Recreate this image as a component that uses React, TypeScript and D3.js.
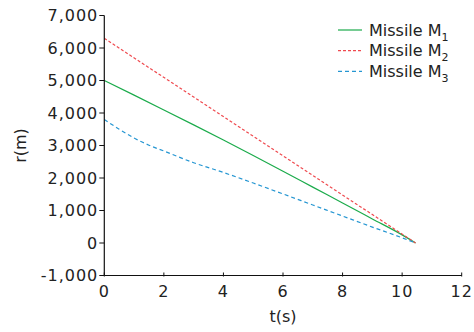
import React from "react";
import * as d3 from "d3";

const xTicks = [0, 2, 4, 6, 8, 10, 12];
const yTicks = [-1000, 0, 1000, 2000, 3000, 4000, 5000, 6000, 7000];

const m1T = [0, 1, 2, 3, 4, 5, 6, 7, 8, 9, 10, 10.45];
const m1R = [5000, 4550, 4095, 3635, 3170, 2695, 2210, 1720, 1230, 740, 250, 0];

const m2T = [0, 10.45];
const m2R = [6300, 0];

const m3T = [0, 0.5, 1, 1.5, 2, 3, 4, 5, 6, 7, 8, 9, 10, 10.45];
const m3R = [3800, 3500, 3230, 3010, 2830, 2470, 2170, 1845, 1510, 1170, 830, 490, 160, 0];

const seriesNames = ["1", "2", "3"];

export default function App() {
  const W = 474, H = 332;
  const x = d3.scaleLinear().domain([0, 12]).range([104.3, 461.7]);
  const y = d3.scaleLinear().domain([-1000, 7000]).range([275.5, 15.5]);
  const fmt = (v: number) => d3.format(",")(v).replace("\u2212", "-");
  const line = d3
    .line<[number, number]>()
    .x((d) => x(d[0]))
    .y((d) => y(d[1]))
    .curve(d3.curveMonotoneX);

  const series = [
    { t: m1T, r: m1R, color: "#1bab4b", dash: "none" },
    { t: m2T, r: m2R, color: "#ef4a4f", dash: "3,2" },
    { t: m3T, r: m3R, color: "#2596d2", dash: "4,3" },
  ];

  const font = "'DejaVu Sans', sans-serif";
  const textColor = "#222";

  return (
    <svg
      width={W}
      height={H}
      style={{ position: "absolute", left: 0, top: 0, background: "#fff" }}
      fontFamily={font}
    >
      {series.map((s, i) => (
        <path
          key={i}
          d={line(s.t.map((t, j) => [t, s.r[j]] as [number, number])) || ""}
          fill="none"
          stroke={s.color}
          strokeWidth={1.2}
          strokeDasharray={s.dash}
        />
      ))}

      <line x1={x(0)} x2={x(0)} y1={y(7000)} y2={y(-1000)} stroke="#111" strokeWidth={1.2} />
      <line x1={x(0)} x2={x(12)} y1={y(-1000)} y2={y(-1000)} stroke="#111" strokeWidth={1.2} />

      {yTicks.map((v) => (
        <g key={v}>
          <line x1={x(0) - 5} x2={x(0)} y1={y(v)} y2={y(v)} stroke="#111" strokeWidth={1} />
          <text
            x={x(0) - 6}
            y={y(v)}
            dy="0.36em"
            textAnchor="end"
            fontSize={16}
            letterSpacing={1}
            fill={textColor}
          >
            {fmt(v)}
          </text>
        </g>
      ))}

      {xTicks.map((v) => (
        <g key={v}>
          <line x1={x(v)} x2={x(v)} y1={y(-1000) - 3} y2={y(-1000) + 1} stroke="#111" strokeWidth={1} />
          <text
            x={x(v)}
            y={y(-1000) + 21}
            textAnchor="middle"
            fontSize={16}
            letterSpacing={1}
            fill={textColor}
          >
            {v}
          </text>
        </g>
      ))}

      <text x={283} y={322} textAnchor="middle" fontSize={16} fill={textColor}>
        t(s)
      </text>
      <text
        transform={`translate(26, ${(y(7000) + y(-1000)) / 2}) rotate(-90)`}
        textAnchor="middle"
        fontSize={16}
        fill={textColor}
      >
        r(m)
      </text>

      {series.map((s, i) => {
        const ly = 30 + i * 20.7;
        return (
          <g key={i}>
            <line x1={338} x2={362} y1={ly} y2={ly} stroke={s.color} strokeWidth={1.2} strokeDasharray={s.dash} />
            <text x={369} y={ly} dy="0.36em" fontSize={16} fill={textColor}>
              Missile M
              <tspan fontSize={11} dy="5">{seriesNames[i]}</tspan>
            </text>
          </g>
        );
      })}
    </svg>
  );
}
